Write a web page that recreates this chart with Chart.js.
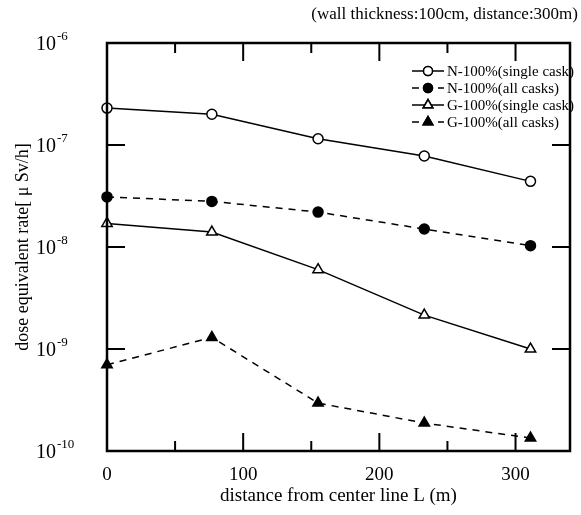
<!DOCTYPE html>
<html lang="en">
<head>
<meta charset="UTF-8">
<title>Dose equivalent rate vs distance</title>
<script src="https://cdn.jsdelivr.net/npm/chart.js@4/dist/chart.umd.min.js"></script>
<style>
  html, body { margin: 0; padding: 0; background: #fff; }
  #wrap { width: 581px; height: 515px; }
</style>
</head>
<body>
<div id="wrap"><canvas id="doseChart" width="581" height="515"></canvas></div>
<script>
// values
const distances = [0, 77, 155, 233, 311];
const nSingle = [2.3e-7, 2.0e-7, 1.15e-7, 7.8e-8, 4.4e-8];
const nAll = [3.1e-8, 2.8e-8, 2.2e-8, 1.5e-8, 1.03e-8];
const gSingle = [1.7e-8, 1.4e-8, 6.0e-9, 2.15e-9, 1.0e-9];
const gAll = [7.0e-10, 1.3e-9, 2.95e-10, 1.88e-10, 1.34e-10];

const seriesNames = ["N-100%(single cask)", "N-100%(all casks)", "G-100%(single cask)", "G-100%(all casks)"];
const xTickValues = [0, 100, 200, 300];
const xMinorTicks = [50, 150, 250];
const yDecades = [-6, -7, -8, -9, -10];

const serif = "'Liberation Serif', 'DejaVu Serif', serif";

function pts(ys) {
    return distances.map(function (d, i) { return {x: d, y: ys[i]}; });
}

function makeSet(label, ys, style, filled, dashed) {
    return {
        label: label,
        data: pts(ys),
        borderColor: "#000",
        borderWidth: 1.5,
        borderDash: dashed ? [7, 6] : [],
        pointStyle: style,
        pointRadius: style === "triangle" ? 6 : 5,
        pointBorderWidth: 1.5,
        pointBackgroundColor: filled ? "#000" : "#fff",
        pointBorderColor: "#000",
        clip: false,
        tension: 0
    };
}

// frame, inside ticks, y tick labels with superscripts, legend, title
const decorations = {
    id: "decorations",
    afterDraw(chart) {
        const ctx = chart.ctx;
        const a = chart.chartArea;
        const xs = chart.scales.x;
        const ys = chart.scales.y;
        ctx.save();
        ctx.strokeStyle = "#000";
        ctx.lineWidth = 2.5;
        ctx.setLineDash([]);
        ctx.strokeRect(a.left, a.top, a.right - a.left, a.bottom - a.top);

        ctx.lineWidth = 2;
        ctx.beginPath();
        xTickValues.concat(xMinorTicks).forEach(function (v) {
            if (v === 0) return;
            const px = xs.getPixelForValue(v);
            const len = (v % 100 === 0) ? 18 : 10;
            ctx.moveTo(px, a.bottom); ctx.lineTo(px, a.bottom - len);
            ctx.moveTo(px, a.top); ctx.lineTo(px, a.top + len);
        });
        yDecades.forEach(function (e) {
            if (e === -6 || e === -10) return;
            const py = ys.getPixelForValue(Math.pow(10, e));
            ctx.moveTo(a.left, py); ctx.lineTo(a.left + 18, py);
            ctx.moveTo(a.right, py); ctx.lineTo(a.right - 18, py);
        });
        ctx.stroke();

        // y tick labels 10^n
        ctx.fillStyle = "#000";
        ctx.textBaseline = "middle";
        ctx.textAlign = "left";
        yDecades.forEach(function (e) {
            const py = ys.getPixelForValue(Math.pow(10, e));
            ctx.font = "20px " + serif;
            ctx.fillText("10", 36, py + 2);
            const w = ctx.measureText("10").width;
            ctx.font = "13px " + serif;
            ctx.fillText("-" + (-e), 36 + w + 1, py - 6);
        });

        // legend
        const sets = chart.data.datasets;
        ctx.font = "15px " + serif;
        sets.forEach(function (ds, i) {
            const y = 71 + i * 17;
            ctx.lineWidth = 1.5;
            ctx.setLineDash(ds.borderDash);
            ctx.beginPath();
            ctx.moveTo(412, y); ctx.lineTo(444, y);
            ctx.stroke();
            ctx.setLineDash([]);
            Chart.helpers.drawPoint(ctx, {
                pointStyle: ds.pointStyle,
                radius: ds.pointRadius - 0.5,
                borderWidth: 1.5,
                rotation: 0
            }, 428, y);
            ctx.fillStyle = ds.pointBackgroundColor;
            ctx.fill();
            ctx.stroke();
            ctx.fillStyle = "#000";
            ctx.fillText(ds.label, 447, y + 1);
        });

        // title
        ctx.font = "17px " + serif;
        ctx.textAlign = "right";
        ctx.fillText("(wall thickness:100cm, distance:300m)", 578, 15);
        ctx.restore();
    }
};

new Chart("doseChart", {
    type: "line",
    data: {
        datasets: [
            makeSet(seriesNames[0], nSingle, "circle", false, false),
            makeSet(seriesNames[1], nAll, "circle", true, true),
            makeSet(seriesNames[2], gSingle, "triangle", false, false),
            makeSet(seriesNames[3], gAll, "triangle", true, true)
        ]
    },
    options: {
        responsive: false,
        animation: false,
        layout: { padding: { top: 43, right: 11, left: 0, bottom: 0 } },
        plugins: {
            legend: { display: false },
            tooltip: { enabled: false },
            title: { display: false }
        },
        scales: {
            x: {
                type: "linear",
                min: 0,
                max: 340,
                afterBuildTicks: function (scale) {
                    scale.ticks = xTickValues.map(function (v) { return {value: v}; });
                },
                afterFit: function (scale) { scale.height = 64; },
                grid: { display: false, drawTicks: false },
                border: { display: false },
                ticks: {
                    padding: 13,
                    color: "#000",
                    maxRotation: 0,
                    font: { family: serif, size: 19 }
                },
                title: {
                    display: true,
                    text: "distance from center line L (m)",
                    color: "#000",
                    font: { family: serif, size: 19 },
                    padding: { top: 0, bottom: 8 }
                }
            },
            y: {
                type: "logarithmic",
                min: 1e-10,
                max: 1e-6,
                afterFit: function (scale) { scale.width = 107; },
                grid: { display: false, drawTicks: false },
                border: { display: false },
                ticks: { display: false },
                title: {
                    display: true,
                    text: "dose equivalent rate[ \u03bc Sv/h]",
                    color: "#000",
                    font: { family: serif, size: 18 },
                    padding: { top: 12, bottom: 0 }
                }
            }
        }
    },
    plugins: [decorations]
});
</script>
</body>
</html>
